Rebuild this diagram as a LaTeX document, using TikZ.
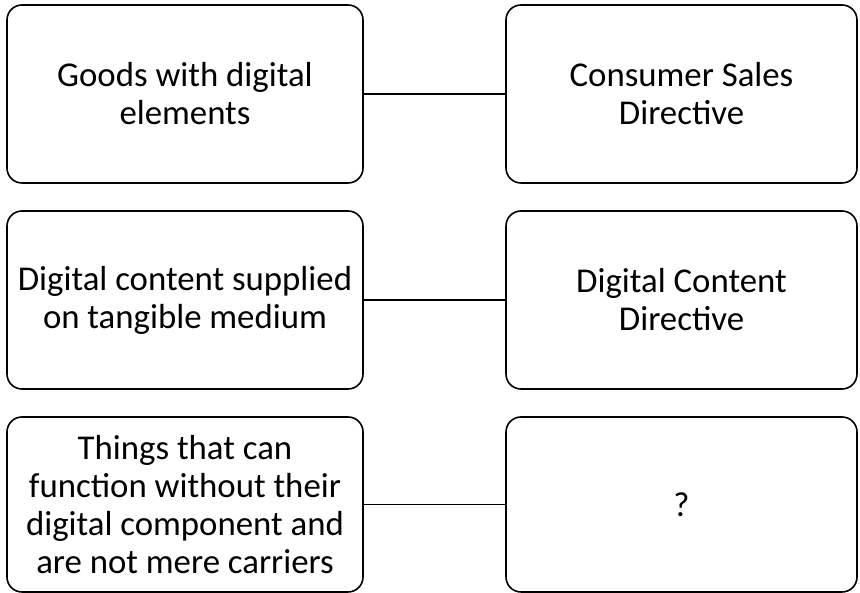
\documentclass[tikz,border=0pt]{standalone}
\usepackage{fontspec}
\setmainfont{Carlito}
\begin{document}
\begin{tikzpicture}[x=1pt,y=1pt,
  cell/.style={draw=black, line width=1.6pt, rounded corners=15pt, minimum width=356pt, minimum height=178pt, align=center, font=\fontsize{34.8}{38}\selectfont, inner sep=0pt},
  rcell/.style={cell, minimum width=351pt},
  bcell/.style={minimum height=175pt},
  link/.style={line width=1.6pt}]
\useasboundingbox (0,0) rectangle (860,593);
\node[cell] (g) at (185,499) {Goods with digital\\elements};
\node[rcell] (cs) at (681.5,499) {Consumer Sales\\Directive};
\node[cell] (d) at (185,293) {Digital content supplied\\on tangible medium};
\node[rcell] (dc) at (681.5,293) {Digital Content\\Directive};
\node[cell, bcell] (t) at (185,88.5) {Things that can\\function without their\\digital component and\\are not mere carriers};
\node[rcell, bcell] (q) at (681.5,88.5) {?};
\draw[link] (g) -- (cs);
\draw[link] (d) -- (dc);
\draw[link] (t) -- (q);
\end{tikzpicture}
\end{document}
